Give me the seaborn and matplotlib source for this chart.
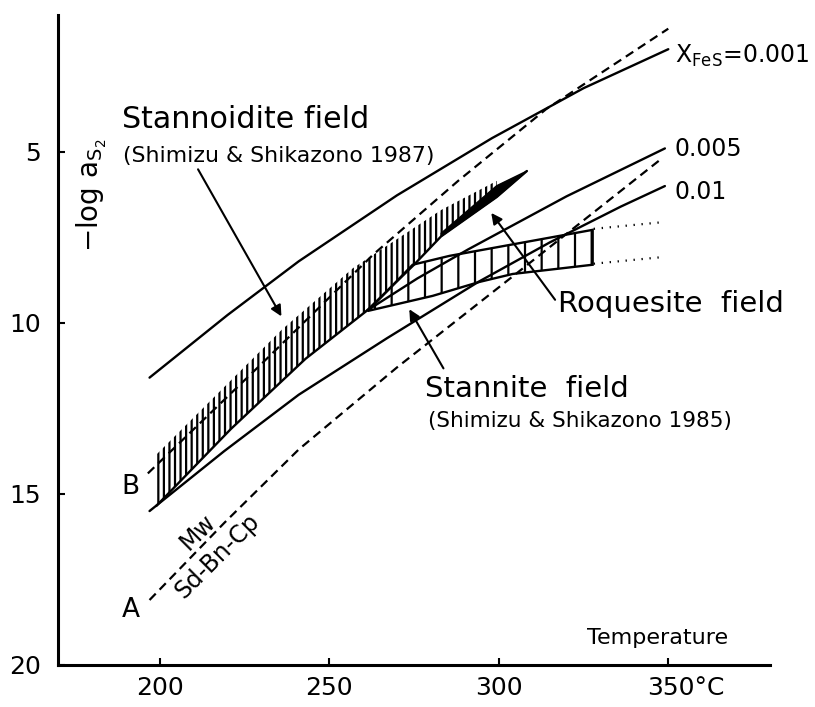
import matplotlib
matplotlib.use('Agg')
import matplotlib.pyplot as plt
import matplotlib.transforms as mtransforms
import seaborn as sns

# X_FeS isopleths: temperature (deg C) vs -log aS2
t_001 = [197, 220, 241, 270, 298, 325, 350]
y_001 = [11.6, 9.77, 8.2, 6.27, 4.6, 3.14, 2.0]
t_005 = [199, 221, 243, 261, 276, 291, 320, 349]
y_005 = [15.35, 13.1, 11.05, 9.65, 8.7, 7.85, 6.3, 4.9]
t_01 = [197, 219, 241, 267, 294, 315, 336, 349]
y_01 = [15.5, 13.75, 12.1, 10.45, 8.8, 7.65, 6.6, 6.0]

# dashed buffer curves (B, and A = Mw / Sd-Bn-Cp)
t_b = [196.5, 230, 263, 288, 314, 350]
y_b = [14.4, 11.2, 8.0, 5.85, 3.75, 1.4]
t_a = [197, 219, 241, 270, 304, 348]
y_a = [18.1, 15.85, 13.7, 11.3, 8.65, 5.2]

# stannoidite field
stn_top_t = [198.5, 236, 257, 283, 299.4]
stn_top_y = [13.9, 10.2, 8.4, 6.7, 5.85]
stn_bot_t = [199, 221, 243, 261, 275, 283, 299.4]
stn_bot_y = [15.35, 13.1, 11.05, 9.65, 8.3, 7.47, 6.32]
edge_t = [261, 275, 283, 299.4, 308.3]
edge_y = [9.65, 8.3, 7.47, 6.32, 5.56]

# roquesite field (black wedge)
roq_t = [283, 299.4, 308.3, 299.4, 283]
roq_y = [7.38, 5.99, 5.56, 6.32, 7.47]

# stannite field
sn_top_t = [261.4, 274.6, 285.5, 327.7]
sn_top_y = [9.65, 8.3, 8.04, 7.28]
sn_bot_t = [261.4, 280.5, 294.4, 304.1, 327.7]
sn_bot_y = [9.65, 9.21, 8.8, 8.57, 8.3]

# dotted extensions
dot_t = [328, 349]
dot_up = [7.25, 7.05]
dot_lo = [8.27, 8.07]

x_ticks = [200, 250, 300, 350]
x_labels = ['200', '250', '300', '350°C']
y_ticks = [5, 10, 15, 20]

sns.set_theme(style='ticks')
plt.rcParams['font.family'] = ['DejaVu Sans']
plt.rcParams['mathtext.fontset'] = 'dejavusans'
plt.rcParams['hatch.linewidth'] = 1.6
plt.rcParams['hatch.color'] = 'black'
plt.rcParams['text.color'] = 'black'

fig = plt.figure(figsize=(8.15, 7.07), dpi=100)
ax = fig.add_axes([58 / 815, 42 / 707, 712 / 815, 650 / 707])

lw = 1.7
for t, y in [(t_001, y_001), (t_005, y_005), (t_01, y_01), (edge_t, edge_y)]:
    sns.lineplot(x=t, y=y, ax=ax, color='black', lw=lw, sort=False, estimator=None)
for t, y in [(t_b, y_b), (t_a, y_a)]:
    sns.lineplot(x=t, y=y, ax=ax, color='black', lw=1.6, sort=False,
                 estimator=None, linestyle=(0, (4, 2.5)))
for y in [dot_up, dot_lo]:
    sns.lineplot(x=dot_t, y=y, ax=ax, color='black', lw=1.6, sort=False,
                 estimator=None, linestyle=(0, (0.6, 3)))

# hatched fields
ax.fill(stn_top_t + stn_bot_t[::-1], stn_top_y + stn_bot_y[::-1],
        facecolor='none', edgecolor='black', hatch='|||', linewidth=0)
ax.fill(sn_top_t + sn_bot_t[::-1], sn_top_y + sn_bot_y[::-1],
        facecolor='none', edgecolor='black', hatch='|', linewidth=lw)
ax.fill(roq_t, roq_y, facecolor='black', edgecolor='black', linewidth=1)

# labels
ax.text(188.8, 4.3, 'Stannoidite field', fontsize=21.7, va='baseline')
ax.text(189.1, 5.3, '(Shimizu & Shikazono 1987)', fontsize=15.8, va='baseline')
ax.text(317.4, 9.68, 'Roquesite  field', fontsize=21, va='baseline')
ax.text(278.2, 12.16, 'Stannite  field', fontsize=21, va='baseline')
ax.text(279.1, 13.04, '(Shimizu & Shikazono 1985)', fontsize=15.5, va='baseline')
ax.text(351.9, 2.4, r'X$_{\mathrm{FeS}}$=0.001', fontsize=17, va='baseline')
ax.text(351.9, 5.12, '0.005', fontsize=17, va='baseline')
ax.text(351.9, 6.37, '0.01', fontsize=17, va='baseline')
ax.text(326.0, 19.39, 'Temperature', fontsize=16, va='baseline')
ax.text(191.3, 15.0, 'B', fontsize=19, ha='center', va='baseline')
ax.text(191.4, 18.6, 'A', fontsize=19, ha='center', va='baseline')
ax.text(211.2, 16.11, 'Mw', fontsize=17, rotation=45, ha='center', va='center',
        rotation_mode='anchor')
ax.text(217.1, 16.81, 'Sd-Bn-Cp', fontsize=17, rotation=45, ha='center', va='center',
        rotation_mode='anchor')
ax.text(179.9, 6.26, r'$-\mathrm{log}\ \mathrm{a}_{\mathrm{S}_2}$', fontsize=20,
        rotation=90, ha='center', va='center')

arrow = dict(arrowstyle='-|>', lw=1.5, color='black', mutation_scale=16)
ax.annotate('', xy=(236.3, 9.88), xytext=(210.9, 5.44), arrowprops=arrow)
ax.annotate('', xy=(297.3, 6.72), xytext=(317.1, 9.39), arrowprops=arrow)
ax.annotate('', xy=(273.2, 9.53), xytext=(284.1, 11.4), arrowprops=arrow)

ax.set_xlim(170, 380)
ax.set_ylim(20, 1)
ax.set_xticks(x_ticks)
ax.set_xticklabels(x_labels)
ax.set_yticks(y_ticks)
ax.tick_params(direction='in', length=5, width=1.5, labelsize=18, colors='black')
ax.tick_params(axis='x', pad=8)
ax.tick_params(axis='y', pad=12)
for lab in ax.get_xticklabels():
    if '°' in lab.get_text():
        lab.set_transform(lab.get_transform() +
                          mtransforms.ScaledTranslation(0.18, 0, fig.dpi_scale_trans))
sns.despine(ax=ax)
for s in ['left', 'bottom']:
    ax.spines[s].set_linewidth(2.2)
    ax.spines[s].set_color('black')
ax.set_xlabel('')
ax.set_ylabel('')

fig.savefig('out.png', dpi=100)
